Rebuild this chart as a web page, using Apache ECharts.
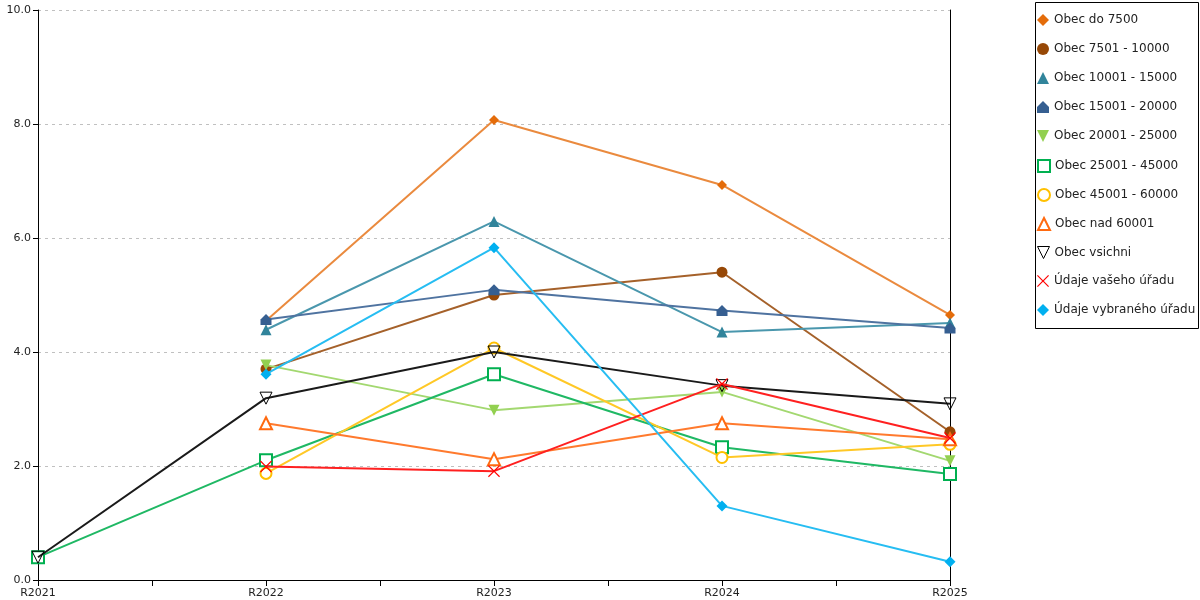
<!DOCTYPE html>
<html>
<head>
<meta charset="utf-8">
<script src="https://cdn.jsdelivr.net/npm/echarts@6/dist/echarts.min.js"></script>
<style>
  html, body { margin: 0; padding: 0; background: #fff; }
  #container { width: 1200px; height: 600px; }
</style>
</head>
<body>
<div id="container"></div>
<script>
    var years = ['R2021', 'R2022', 'R2023', 'R2024', 'R2025'];

    var names = ['Obec do 7500', 'Obec 7501 - 10000', 'Obec 10001 - 15000', 'Obec 15001 - 20000',
        'Obec 20001 - 25000', 'Obec 25001 - 45000', 'Obec 45001 - 60000', 'Obec nad 60001',
        'Obec vsichni', 'Údaje vašeho úřadu', 'Údaje vybraného úřadu'];

    var do7500 = [null, 4.55, 8.07, 6.93, 4.65];
    var o7501 = [null, 3.70, 5.00, 5.40, 2.60];
    var o10001 = [null, 4.39, 6.29, 4.35, 4.51];
    var o15001 = [null, 4.57, 5.09, 4.73, 4.42];
    var o20001 = [null, 3.77, 2.98, 3.30, 2.09];
    var o25001 = [0.40, 2.10, 3.61, 2.33, 1.86];
    var o45001 = [null, 1.87, 4.07, 2.15, 2.38];
    var nad60001 = [null, 2.75, 2.12, 2.75, 2.47];
    var vsichni = [0.40, 3.19, 4.00, 3.41, 3.09];
    var vaseho = [null, 1.99, 1.91, 3.44, 2.49];
    var vybraneho = [null, 3.61, 5.83, 1.30, 0.32];

    var values = [do7500, o7501, o10001, o15001, o20001, o25001, o45001, nad60001, vsichni, vaseho, vybraneho];
    var colors = ['#e46c0a', '#974806', '#31849b', '#365f91', '#92d050', '#00b050', '#ffc000', '#ff6a10',
        '#000000', '#ff0000', '#00b0f0'];
    var lineColors = ['#ea8a3e', '#a5612a', '#4a97ad', '#4f73a0', '#a3d870', '#1fb864', '#ffc826', '#ff7a2e',
        '#1a1a1a', '#ff2020', '#26bdf2'];

    var house = 'path://M5,0 L10,5 L10,10 L0,10 L0,5 Z';
    var downTri = 'path://M0,0 L10,0 L5,10 Z';
    var cross = 'path://M0,0.7 L0.7,0 L5,4.3 L9.3,0 L10,0.7 L5.7,5 L10,9.3 L9.3,10 L5,5.7 L0.7,10 L0,9.3 L4.3,5 Z';
    var symbols = ['diamond', 'circle', 'triangle', house, downTri, 'emptyRect', 'emptyCircle', 'emptyTriangle', downTri, cross, 'diamond'];
    var sizes = [10, 11, 11, 11, 11, 12, 11, 12, 12, 12, 11];

    function styleFor(i) {
        if (i === 8) return { color: 'rgba(255,255,255,0)', borderColor: colors[i], borderWidth: 1 };
        if (symbols[i].indexOf('empty') === 0) return { color: colors[i], borderColor: colors[i], borderWidth: 1 };
        return { color: colors[i], borderWidth: 0 };
    }

    var series = [];
    var legends = [];
    for (var i = 0; i < names.length; i++) {
        var pts = [];
        for (var j = 0; j < years.length; j++) {
            if (values[i][j] !== null) pts.push([j, values[i][j]]);
        }
        series.push({
            name: names[i],
            type: 'line',
            data: pts,
            symbol: symbols[i],
            symbolSize: sizes[i],
            showAllSymbol: true,
            itemStyle: styleFor(i),
            lineStyle: { color: lineColors[i], width: 2 },
            z: 2 + i,
            animation: false
        });
        // one legend per row so the rows sit on an even 29px step
        legends.push({
            id: 'lg' + i,
            orient: 'vertical',
            left: 1037,
            top: 14 + 29 * i,
            padding: 0,
            itemWidth: 12,
            itemHeight: 12,
            selectedMode: false,
            textStyle: { fontFamily: 'DejaVu Sans', fontSize: 12, color: '#222' },
            data: [{ name: names[i], icon: symbols[i], itemStyle: styleFor(i) }]
        });
    }

    var myChart = echarts.init(document.getElementById('container'));
    var option = {
        backgroundColor: '#fff',
        animation: false,
        grid: { left: 38, right: 250, top: 10, bottom: 20 },
        legend: legends,
        graphic: [{
            type: 'rect',
            shape: { x: 1035.5, y: 2.5, width: 163, height: 326 },
            style: { fill: 'none', stroke: '#000', lineWidth: 1 },
            silent: true
        }],
        xAxis: {
            type: 'value',
            min: 0,
            max: 4,
            interval: 0.5,
            axisLine: { lineStyle: { color: '#000', width: 1 }, onZero: false },
            axisTick: { show: true, length: 6, lineStyle: { color: '#000' } },
            splitLine: { show: false },
            axisLabel: {
                fontFamily: 'DejaVu Sans', fontSize: 11, color: '#222', margin: 8,
                showMinLabel: true, showMaxLabel: true,
                formatter: function (v) { return v % 1 === 0 ? years[v] : ''; }
            }
        },
        yAxis: [{
            type: 'value',
            min: 0,
            max: 10,
            interval: 2,
            axisLine: { show: true, lineStyle: { color: '#000', width: 1 } },
            axisTick: { show: true, length: 5, lineStyle: { color: '#000' } },
            axisLabel: {
                fontFamily: 'DejaVu Sans', fontSize: 11, color: '#222', margin: 7,
                formatter: function (v) { return v.toFixed(1); }
            },
            splitLine: { show: true, lineStyle: { color: '#c0c0c0', type: [3, 4], width: 1 } }
        }, {
            type: 'value',
            position: 'right',
            min: 0,
            max: 10,
            axisLine: { show: true, lineStyle: { color: '#000', width: 1 } },
            axisTick: { show: false },
            axisLabel: { show: false },
            splitLine: { show: false }
        }],
        series: series
    };
    myChart.setOption(option, true);
</script>
</body>
</html>
